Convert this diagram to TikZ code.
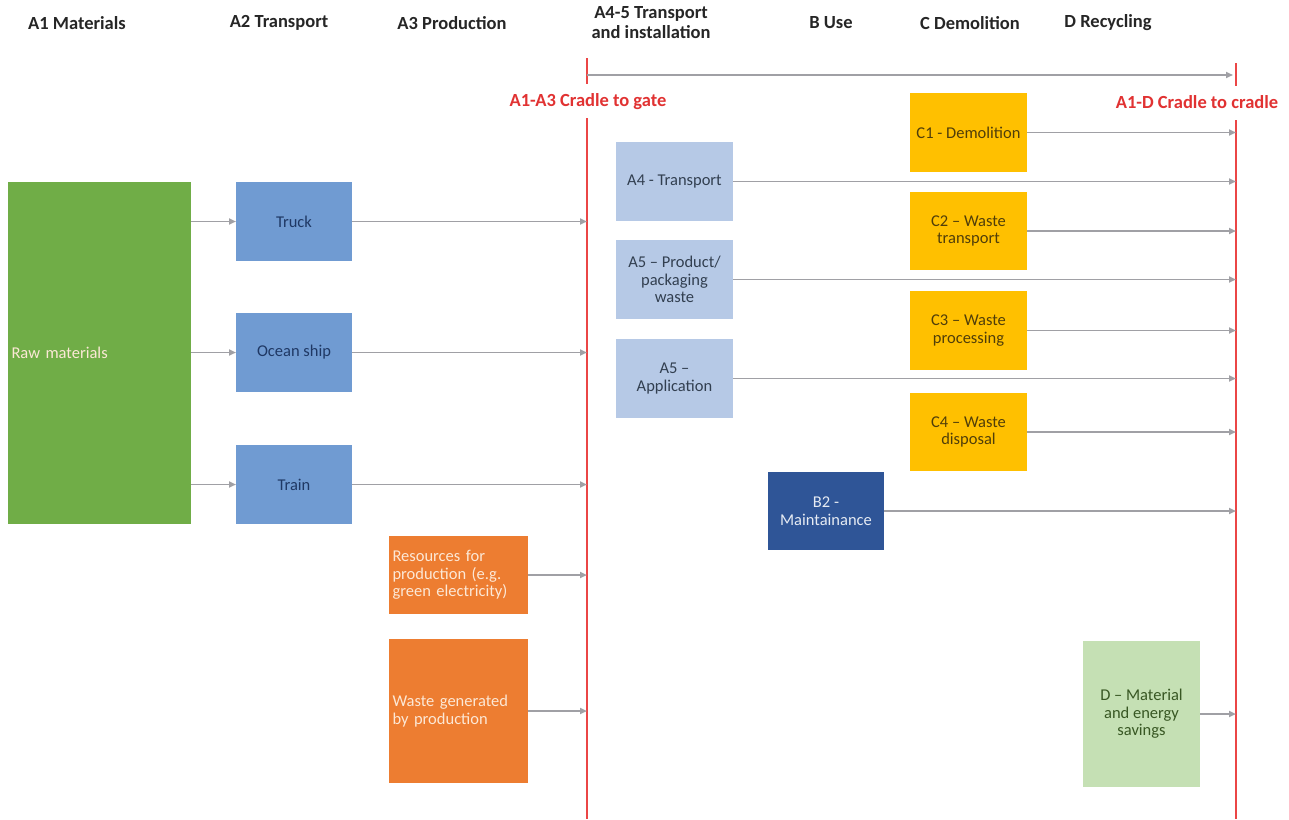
\documentclass[tikz,border=0pt]{standalone}
\usepackage{fontspec}
\setmainfont{Carlito}
\usetikzlibrary{arrows.meta}
\definecolor{rawgreen}{RGB}{112,173,71}
\definecolor{midblue}{RGB}{112,155,210}
\definecolor{lightblue}{RGB}{182,201,230}
\definecolor{gold}{RGB}{255,192,0}
\definecolor{orng}{RGB}{237,125,49}
\definecolor{darkblue}{RGB}{47,85,151}
\definecolor{palegreen}{RGB}{197,224,180}
\definecolor{arrgray}{RGB}{160,160,165}
\definecolor{redline}{RGB}{235,70,70}
\definecolor{redtext}{RGB}{225,50,50}
\definecolor{navytext}{RGB}{31,56,100}
\definecolor{slatetext}{RGB}{50,63,80}
\definecolor{goldtext}{RGB}{80,62,10}
\definecolor{greentext}{RGB}{56,87,35}
\definecolor{lighttext}{RGB}{252,232,214}
\tikzset{
  box/.style={draw=none, inner sep=3pt, outer sep=0pt, anchor=north west, align=center, font=\fontsize{16.5}{17.5}\selectfont},
  hdr/.style={font=\bfseries\fontsize{18.5}{20}\selectfont, align=center, text=black!85},
  redlab/.style={font=\bfseries\fontsize{18.5}{20}\selectfont, text=redtext},
  arr/.style={draw=arrgray, line width=1.8pt, -{Triangle[length=7pt,width=6pt]}},
  redl/.style={draw=redline, line width=1.8pt},
}
\begin{document}
\begin{tikzpicture}[x=1pt,y=-1pt]
\useasboundingbox (0,0) rectangle (1289,819);
\fill[white] (0,0) rectangle (1289,819);

% headers
\node[hdr] (h1) at (77,23) {A1 Materials};
\node[hdr] (h2) at (279,23) {A2 Transport};
\node[hdr] (h3) at (452,23) {A3 Production};
\node[hdr] (h4) at (651,23) {A4-5 Transport\\and installation};
\node[hdr] (h5) at (831,23) {B Use};
\node[hdr] (h6) at (970,23) {C Demolition};
\node[hdr] (h7) at (1108,23) {D Recycling};

% red lines and bracket
\coordinate (gateTop) at (587,118);
\coordinate (gateBot) at (587,819);
\coordinate (cradTop) at (1236,120);
\coordinate (cradBot) at (1236,819);
\coordinate (tickLt) at (587,58);
\coordinate (tickLb) at (587,84);
\coordinate (tickRt) at (1236,63);
\coordinate (tickRb) at (1236,86);
\draw[redl] (gateTop) -- (gateBot);
\draw[redl] (cradTop) -- (cradBot);
\draw[redl] (tickLt) -- (tickLb);
\draw[redl] (tickRt) -- (tickRb);
\draw[arr] (587,75) -- (1233,75);
\node[redlab] (lgate) at (588,102) {A1-A3 Cradle to gate};
\node[redlab] (lcrad) at (1197,102) {A1-D Cradle to cradle};

% A1
\node[box, fill=rawgreen, minimum width=183pt, minimum height=342pt, text width=176pt, align=left, text=lighttext] (raw) at (8,182) {Raw materials};
% A2
\node[box, fill=midblue, minimum width=116pt, minimum height=79pt, text=navytext] (truck) at (236,182) {Truck};
\node[box, fill=midblue, minimum width=116pt, minimum height=79pt, text=navytext] (ship) at (236,313) {Ocean ship};
\node[box, fill=midblue, minimum width=116pt, minimum height=79pt, text=navytext] (train) at (236,445) {Train};
% A3
\node[box, fill=orng, minimum width=139pt, minimum height=78pt, text width=132pt, align=left, text=lighttext] (res) at (389,536) {Resources for\\production (e.g.\\green electricity)};
\node[box, fill=orng, minimum width=139pt, minimum height=144pt, text width=132pt, align=left, text=lighttext] (waste) at (389,639) {Waste generated\\by production};
% A4-5
\node[box, fill=lightblue, minimum width=117pt, minimum height=79pt, text=slatetext] (a4) at (616,142) {A4 - Transport};
\node[box, fill=lightblue, minimum width=117pt, minimum height=79pt, text=slatetext] (a5p) at (616,240) {A5 -- Product/\\packaging\\waste};
\node[box, fill=lightblue, minimum width=117pt, minimum height=79pt, text=slatetext] (a5a) at (616,339) {A5 --\\Application};
% B
\node[box, fill=darkblue, minimum width=116pt, minimum height=78pt, text=white!88!darkblue] (b2) at (768,472) {B2 -\\Maintainance};
% C
\node[box, fill=gold, minimum width=117pt, minimum height=79pt, text=goldtext] (c1) at (910,93) {C1 - Demolition};
\node[box, fill=gold, minimum width=117pt, minimum height=78pt, text=goldtext] (c2) at (910,192) {C2 -- Waste\\transport};
\node[box, fill=gold, minimum width=117pt, minimum height=79pt, text=goldtext] (c3) at (910,291) {C3 -- Waste\\processing};
\node[box, fill=gold, minimum width=117pt, minimum height=78pt, text=goldtext] (c4) at (910,393) {C4 -- Waste\\disposal};
% D
\node[box, fill=palegreen, minimum width=117pt, minimum height=146pt, text=greentext] (d) at (1083,641) {D -- Material\\and energy\\savings};

% arrows A1 -> A2
\draw[arr] (raw.east |- truck.west) -- (truck.west);
\draw[arr] (raw.east |- ship.west) -- (ship.west);
\draw[arr] (raw.east |- train.west) -- (train.west);
% arrows to gate
\draw[arr] (truck.east) -- (truck.east -| gateTop);
\draw[arr] (ship.east) -- (ship.east -| gateTop);
\draw[arr] (train.east) -- (train.east -| gateTop);
\draw[arr] (res.east) -- (res.east -| gateTop);
\draw[arr] (waste.east) -- (waste.east -| gateTop);
% arrows to cradle
\draw[arr] (a4.east) -- (a4.east -| cradTop);
\draw[arr] (a5p.east) -- (a5p.east -| cradTop);
\draw[arr] (a5a.east) -- (a5a.east -| cradTop);
\draw[arr] (b2.east) -- (b2.east -| cradTop);
\draw[arr] (c1.east) -- (c1.east -| cradTop);
\draw[arr] (c2.east) -- (c2.east -| cradTop);
\draw[arr] (c3.east) -- (c3.east -| cradTop);
\draw[arr] (c4.east) -- (c4.east -| cradTop);
\draw[arr] (d.east) -- (d.east -| cradTop);
\end{tikzpicture}
\end{document}
